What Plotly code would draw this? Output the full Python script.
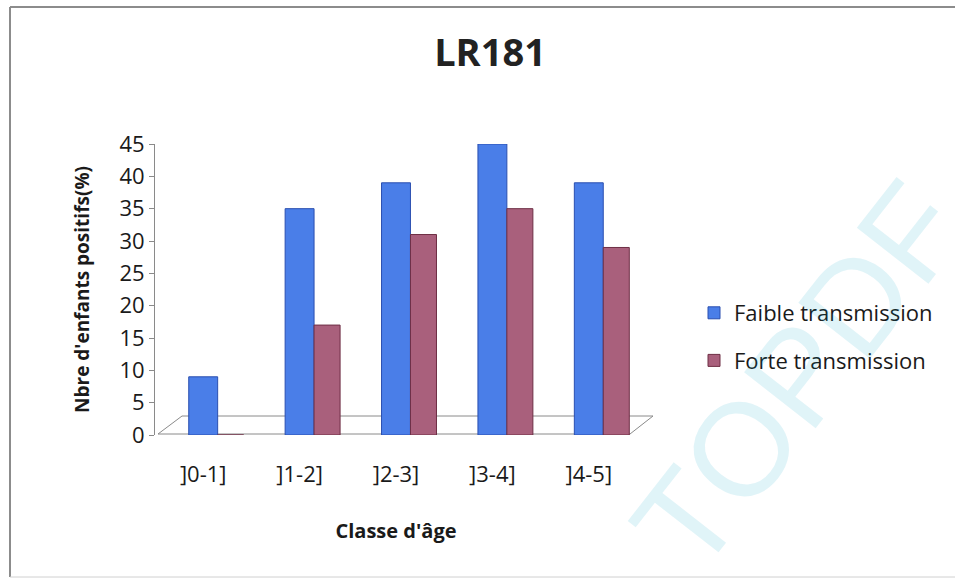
import plotly.graph_objects as go

# Age classes and percentage of positive children per transmission level
classes = ["]0-1]", "]1-2]", "]2-3]", "]3-4]", "]4-5]"]
faible = [9, 35, 39, 45, 39]
forte = [0, 17, 31, 35, 29]

FONT = "Open Sans"
BLUE = "#4a7ee8"
BLUE_EDGE = "#2a4fb0"
MAUVE = "#a9607c"
MAUVE_EDGE = "#6e2f45"

fig = go.Figure()
fig.add_trace(go.Bar(
    x=classes, y=faible, name="Faible transmission",
    offset=-0.15, width=0.30, legendgroup="a",
    marker=dict(color=BLUE, line=dict(color=BLUE_EDGE, width=1)),
))
fig.add_trace(go.Bar(
    x=classes, y=forte, name="Forte transmission",
    offset=0.15, width=0.27, legendgroup="b",
    marker=dict(color=MAUVE, line=dict(color=MAUVE_EDGE, width=1)),
))

# plot domain in pixels: x 155..637, y 144..435 (figure 955 x 580)
FW, FH = 955, 580
L, R, T, B = 155, 637, 144, 435
W, H = R - L, B - T


def px(x):
    return (x - L) / W


def py(y):
    return (B - y) / H


# perspective floor under the bars
floor = "M {} {} L {} {} L {} {} L {} {} Z".format(
    px(158), py(434), px(630), py(434), px(653), py(416), px(182), py(416)
)

shapes = [
    dict(type="path", path=floor, xref="paper", yref="paper",
         line=dict(color="#8a8a8a", width=1), fillcolor="rgba(0,0,0,0)",
         layer="below"),
    # outer chart frame (top and left edges)
    dict(type="line", xref="paper", yref="paper",
         x0=px(10), x1=px(960), y0=py(7), y1=py(7),
         line=dict(color="#8c8c8c", width=2), layer="below"),
    dict(type="line", xref="paper", yref="paper",
         x0=px(10), x1=px(10), y0=py(7), y1=py(577),
         line=dict(color="#8c8c8c", width=2), layer="below"),
    dict(type="line", xref="paper", yref="paper",
         x0=px(10), x1=px(960), y0=py(577), y1=py(577),
         line=dict(color="#d0d0d0", width=1), layer="below"),
]

annotations = [
    # faint diagonal watermark, translucent so the legend stays readable
    dict(text="TOPDF", xref="paper", yref="paper", x=px(798), y=py(376),
         xanchor="center", yanchor="middle",
         showarrow=False, textangle=-52,
         font=dict(family="Liberation Sans", size=132,
                   color="rgba(0,165,195,0.12)")),
]

fig.update_layout(
    width=FW, height=FH,
    margin=dict(l=L, r=FW - R, t=T, b=FH - B),
    paper_bgcolor="white", plot_bgcolor="rgba(0,0,0,0)",
    font=dict(family=FONT, color="#1a1a1a"),
    title=dict(text="<b>LR181</b>", x=490 / FW, xanchor="center",
               y=1 - 53 / FH, yanchor="middle",
               font=dict(family=FONT, size=38, color="#222")),
    barmode="overlay",
    showlegend=True,
    legend=dict(x=px(694), y=py(292), xanchor="left", yanchor="top",
                font=dict(family=FONT, size=22, color="#1a1a1a"),
                traceorder="grouped", tracegroupgap=16,
                itemwidth=30, bgcolor="rgba(0,0,0,0)"),
    xaxis=dict(
        range=[-0.5, 4.5], showline=False, showgrid=False, zeroline=False,
        ticks="", tickfont=dict(family=FONT, size=22, color="#1a1a1a"),
        ticklabelstandoff=24,
        title=dict(text="<b>Classe d'âge</b>", standoff=36,
                   font=dict(family=FONT, size=20, color="#1a1a1a")),
    ),
    yaxis=dict(
        range=[0, 45], dtick=5, showline=True, linecolor="#8a8a8a",
        linewidth=1, ticks="outside", ticklen=5, tickcolor="#8a8a8a",
        showgrid=False, zeroline=False,
        tickfont=dict(family=FONT, size=22, color="#1a1a1a"),
        title=dict(text="<b>Nbre d'enfants positifs(%)</b>", standoff=24,
                   font=dict(family=FONT, size=19, color="#1a1a1a")),
    ),
    shapes=shapes,
    annotations=annotations,
)

fig.write_html("out.html")
